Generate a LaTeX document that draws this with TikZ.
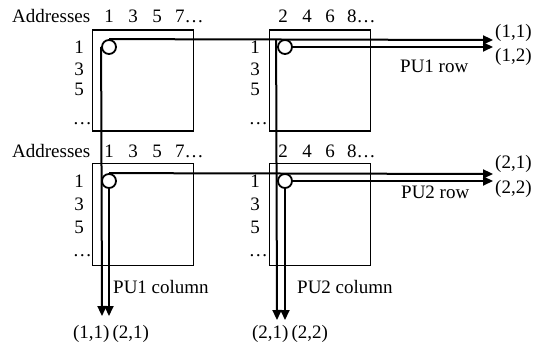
\documentclass[tikz,border=0pt]{standalone}
\usepackage{fontspec}
\setmainfont{Liberation Serif}
\usetikzlibrary{arrows.meta,calc}
\begin{document}
\begin{tikzpicture}[x=1pt,y=-1pt,
  every node/.style={font=\fontsize{19}{22}\selectfont, inner sep=0pt},
  box/.style={draw, line width=1.9pt, minimum width=101pt, minimum height=101pt},
  pe/.style={draw, circle, line width=1.8pt, minimum size=14pt},
  arr/.style={line width=2pt, -{Triangle[length=10pt,width=9pt]}},
  lb/.style={anchor=base},
  lw/.style={anchor=base west},
  le/.style={anchor=base east}]
\useasboundingbox (0,0) rectangle (537,344);

% memory blocks
\node[box] (bA) at (143,80.5) {};
\node[box] (bB) at (320,80.5) {};
\node[box, minimum height=102pt] (bC) at (143,214.5) {};
\node[box, minimum height=102pt] (bD) at (320,214.5) {};

% processing element circles
\node[pe] (cA) at (109,47) {};
\node[pe] (cB) at (285,47) {};
\node[pe] (cC) at (109,181) {};
\node[pe] (cD) at (285,181) {};

% arrow end points
\coordinate (r11) at (493,40);
\coordinate (r12) at (493,47);
\coordinate (r21) at (493,174);
\coordinate (r22) at (493,181);
\coordinate (c11) at (102,316);
\coordinate (c12) at (109,316);
\coordinate (c21) at (277,320);
\coordinate (c22) at (285,320);
\coordinate (tB) at ($(cB.west)+(-1,-7)$);

% row connectors
\draw[arr] (cA.north) -- (r11);
\draw[arr] (cB.east) -- (r12);
\draw[arr] (cC.north) -- (r21);
\draw[arr] (cD.east) -- (r22);
% column connectors
\draw[arr] (cA.west) -- (c11);
\draw[arr] (cC.south) -- (c12);
\draw[arr] (tB) -- (c21);
\draw[arr] (cD.south) -- (c22);

% address labels, upper tier
\node[lw] (ad1) at (12,23) {Addresses};
\node[lb] (a11) at (109,23) {1};
\node[lb] (a13) at (133,23) {3};
\node[lb] (a15) at (157,23) {5};
\node[lw] (a17) at (175,23) {7\ldots};
\node[lb] (a22) at (283,23) {2};
\node[lb] (a24) at (307,23) {4};
\node[lb] (a26) at (330,23) {6};
\node[lw] (a28) at (347,23) {8\ldots};
% address labels, lower tier
\node[lw] (ad2) at (12,158) {Addresses};
\node[lb] (b11) at (109,158) {1};
\node[lb] (b13) at (133,158) {3};
\node[lb] (b15) at (157,158) {5};
\node[lw] (b17) at (175,158) {7\ldots};
\node[lb] (b22) at (283,158) {2};
\node[lb] (b24) at (307,158) {4};
\node[lb] (b26) at (330,158) {6};
\node[lw] (b28) at (347,158) {8\ldots};

% row indices
\foreach \x/\n in {79/L,255/R}{
  \node[lb] (i1\n) at (\x,54) {1};
  \node[lb] (i3\n) at (\x,76) {3};
  \node[lb] (i5\n) at (\x,96) {5};
  \node[lb] (j1\n) at (\x,188) {1};
  \node[lb] (j3\n) at (\x,211) {3};
  \node[lb] (j5\n) at (\x,234) {5};
}
\node[le] (idL) at (92,125) {\ldots};
\node[le] (idR) at (268,125) {\ldots};
\node[le] (jdL) at (92,256) {\ldots};
\node[le] (jdR) at (268,256) {\ldots};

% result labels
\node[lw] (t11) at (495,38) {(1,1)};
\node[lw] (t12) at (495,62) {(1,2)};
\node[lw] (t21) at (495,169) {(2,1)};
\node[lw] (t22) at (495,194) {(2,2)};
\node[lw] (pr1) at (400,73) {PU1 row};
\node[lw] (pr2) at (401,199) {PU2 row};
\node[lw] (pc1) at (113,293) {PU1 column};
\node[lw] (pc2) at (297,293) {PU2 column};
\node[lb] (bt1) at (111,338) {(1,1)\,(2,1)};
\node[lb] (bt2) at (290,338) {(2,1)\,(2,2)};
\end{tikzpicture}
\end{document}
